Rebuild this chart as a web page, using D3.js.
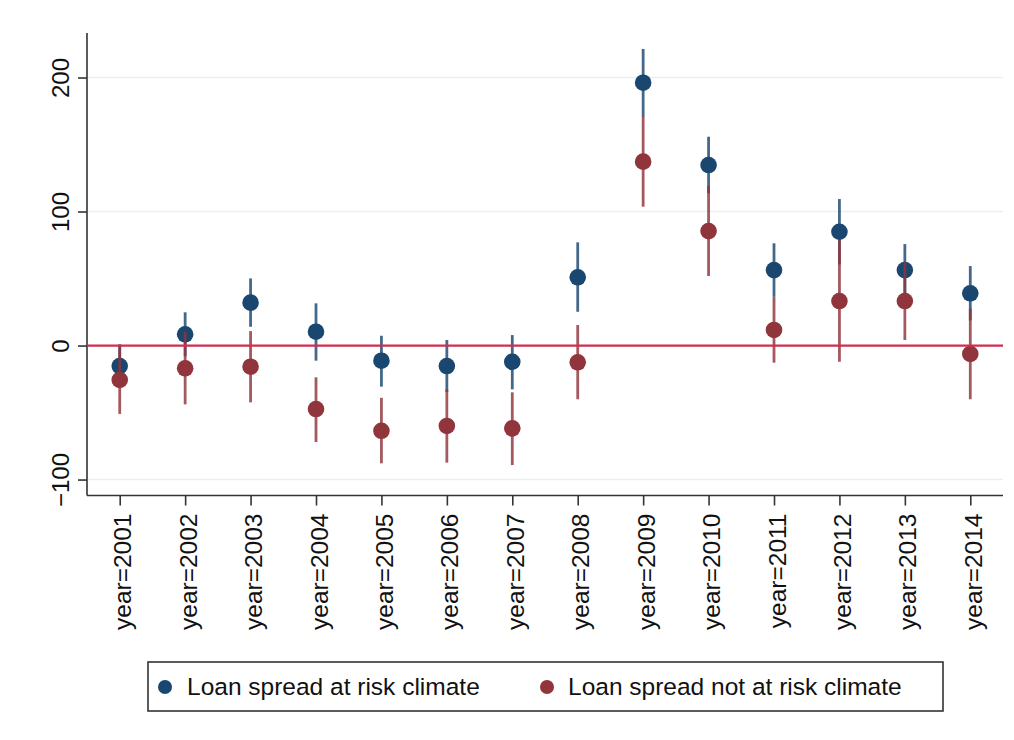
<!DOCTYPE html>
<html>
<head>
<meta charset="utf-8">
<script src="https://cdn.jsdelivr.net/npm/d3@7"></script>
<style>
  html, body { margin: 0; padding: 0; background: #fff; }
  svg { display: block; font-family: "Liberation Sans", Arial, sans-serif; }
</style>
</head>
<body>
<svg id="chart" width="1014" height="740"></svg>
<script>
// ---- data ----
const years = [2001, 2002, 2003, 2004, 2005, 2006, 2007, 2008, 2009, 2010, 2011, 2012, 2013, 2014];
const atRisk      = [-15.3, 8.4, 32.0, 10.3, -11.3, -15.3, -12.1, 50.9, 196.1, 134.7, 56.3, 84.9, 56.3, 39.0];
const atRiskLow   = [-31.6, -8.0, 14.0, -11.3, -30.7, -34.7, -32.7, 25.2, 171.0, 113.6, 36.4, 60.5, 36.9, 18.7];
const atRiskHigh  = [1.0, 24.8, 50.1, 31.5, 7.3, 4.1, 7.8, 77.0, 221.3, 155.8, 76.3, 109.3, 75.7, 59.3];
const notAtRisk     = [-25.7, -17.0, -15.8, -47.4, -63.6, -60.0, -61.8, -12.5, 137.2, 85.4, 11.6, 33.2, 33.2, -6.3];
const notAtRiskLow  = [-51.0, -43.9, -42.4, -72.0, -87.9, -87.4, -89.2, -40.1, 103.6, 51.9, -12.8, -12.1, 4.1, -40.1];
const notAtRiskHigh = [-0.4, 10.3, 10.8, -23.7, -39.0, -32.7, -34.9, 15.3, 171.3, 118.9, 36.4, 78.5, 62.4, 27.5];
const yTicks = [-100, 0, 100, 200];
const seriesNames = ["Loan spread at risk climate", "Loan spread not at risk climate"];

const colors = { blue: "#1a476f", red: "#90353b" };

const svg = d3.select("#chart");
const x = d3.scalePoint().domain(years).range([87, 1003]).padding(0.5);
const y = d3.scaleLinear().domain([-111.9, 233.2]).range([495.5, 33]);

// gridlines
svg.append("g").selectAll("line").data(yTicks.filter(t => t !== 0)).join("line")
  .attr("x1", 88).attr("x2", 1003)
  .attr("y1", d => y(d)).attr("y2", d => y(d))
  .attr("stroke", "#e8f0f3").attr("stroke-width", 1.6);

// y axis
const yAxis = svg.append("g").attr("transform", "translate(87,0)")
  .call(d3.axisLeft(y).tickValues(yTicks).tickSize(9).tickPadding(0).tickFormat(d3.format("d")));
yAxis.select(".domain").attr("stroke", "#333").attr("stroke-width", 1.6).attr("d", `M0,${y.range()[1]}V${y.range()[0]}`);
yAxis.selectAll(".tick line").attr("stroke", "#333").attr("stroke-width", 1.6);
yAxis.selectAll(".tick text")
  .attr("x", null).attr("dy", null)
  .attr("transform", "translate(-18,0) rotate(-90)")
  .attr("text-anchor", "middle")
  .attr("fill", "#111").attr("font-size", 24)
  .style("font-family", "'Liberation Sans', Arial, sans-serif");

// x axis
const xAxis = svg.append("g").attr("transform", "translate(0,495.5)")
  .call(d3.axisBottom(x).tickSize(10).tickPadding(0).tickFormat(d => "year=" + d));
xAxis.select(".domain").attr("stroke", "#333").attr("stroke-width", 1.6).attr("d", "M87,0H1003");
xAxis.selectAll(".tick line").attr("stroke", "#333").attr("stroke-width", 1.6);
xAxis.selectAll(".tick text")
  .attr("y", null).attr("dy", null)
  .attr("transform", "translate(11,18) rotate(-90)")
  .attr("text-anchor", "end")
  .attr("fill", "#111").attr("font-size", 24.5)
  .style("font-family", "'Liberation Sans', Arial, sans-serif");

function drawSeries(vals, lo, hi, color) {
  const g = svg.append("g");
  g.selectAll("line").data(years).join("line")
    .attr("x1", d => x(d)).attr("x2", d => x(d))
    .attr("y1", (d, i) => y(lo[i])).attr("y2", (d, i) => y(hi[i]))
    .attr("stroke", color).attr("stroke-width", 2.8).attr("stroke-opacity", 0.82);
  g.selectAll("circle").data(years).join("circle")
    .attr("cx", d => x(d)).attr("cy", (d, i) => y(vals[i]))
    .attr("r", 8.3).attr("fill", color);
}
drawSeries(atRisk, atRiskLow, atRiskHigh, colors.blue);
drawSeries(notAtRisk, notAtRiskLow, notAtRiskHigh, colors.red);

// zero reference line
svg.append("line")
  .attr("x1", 88).attr("x2", 1003).attr("y1", y(0)).attr("y2", y(0))
  .attr("stroke", "#d12c52").attr("stroke-width", 2.2);

// legend
const legend = svg.append("g");
legend.append("rect").attr("x", 148).attr("y", 662).attr("width", 795).attr("height", 49)
  .attr("fill", "#fff").attr("stroke", "#333").attr("stroke-width", 1.6);
const legendItems = [
  { name: seriesNames[0], color: colors.blue, cx: 165, tx: 187 },
  { name: seriesNames[1], color: colors.red, cx: 547, tx: 568 }
];
legend.selectAll("circle").data(legendItems).join("circle")
  .attr("cx", d => d.cx).attr("cy", 687).attr("r", 7).attr("fill", d => d.color);
legend.selectAll("text").data(legendItems).join("text")
  .attr("x", d => d.tx).attr("y", 695)
  .attr("font-size", 24.5).attr("fill", "#111")
  .text(d => d.name);
</script>
</body>
</html>
